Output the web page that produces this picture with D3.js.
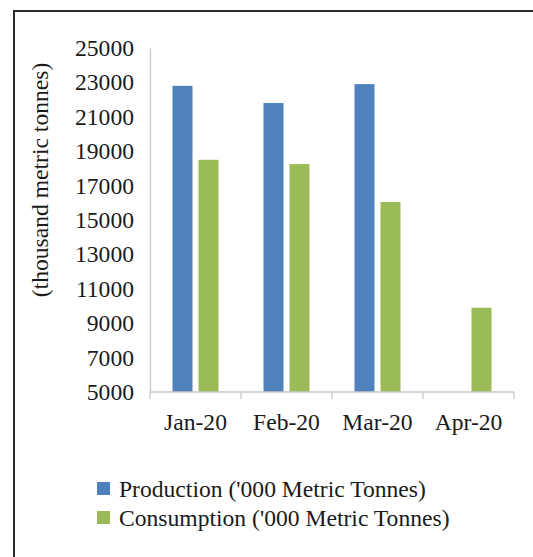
<!DOCTYPE html>
<html>
<head>
<meta charset="utf-8">
<script src="https://cdn.jsdelivr.net/npm/d3@7/dist/d3.min.js"></script>
<style>
  html, body { margin: 0; padding: 0; background: #fff; }
  svg { display: block; }
  text { font-family: "Liberation Serif", "Times New Roman", serif; fill: #1a1a1a; }
</style>
</head>
<body>
<svg id="chart" width="533" height="557"></svg>
<script>
const categories = ["Jan-20", "Feb-20", "Mar-20", "Apr-20"];
const seriesNames = ["Production ('000 Metric Tonnes)", "Consumption ('000 Metric Tonnes)"];
const production = [22800, 21800, 22900, null];
const consumption = [18500, 18250, 16050, 9900];
const yTicks = [5000, 7000, 9000, 11000, 13000, 15000, 17000, 19000, 21000, 23000, 25000];
const yTitle = "(thousand metric tonnes)";
const colors = ["#4f81bd", "#9bbb59"];

const svg = d3.select("#chart");
const W = 533, H = 557;
const m = { left: 150, right: 514, top: 48, bottom: 392 };
const fs = 23.6;

// outer border
svg.append("rect")
  .attr("x", 14).attr("y", 11)
  .attr("width", W + 20).attr("height", H + 20)
  .attr("fill", "none").attr("stroke", "#2a2a2a").attr("stroke-width", 2);

const x0 = d3.scaleBand().domain(categories).range([m.left, m.right]).padding(0);
const x1 = d3.scaleBand().domain([0, 1]).range([0, x0.bandwidth()])
  .paddingInner(0.231).paddingOuter(0.865);
const y = d3.scaleLinear().domain([5000, 25000]).range([m.bottom, m.top]);

// y axis
const yAxis = d3.axisLeft(y).tickValues(yTicks).tickSize(0).tickPadding(16).tickFormat(d3.format("d"));
const gy = svg.append("g").attr("transform", `translate(${m.left},0)`).call(yAxis);
gy.select(".domain").attr("stroke", "#c8c8c8").attr("stroke-width", 1.3);
gy.selectAll("text").attr("font-size", fs).style("font-family", "'Liberation Serif', serif").attr("fill", "#1a1a1a");

// bars
const series = [production, consumption];
series.forEach((vals, si) => {
  svg.append("g").selectAll("rect")
    .data(categories.map((c, i) => ({ c, v: vals[i] })).filter(d => d.v != null))
    .join("rect")
    .attr("x", d => x0(d.c) + x1(si))
    .attr("width", x1.bandwidth())
    .attr("y", d => y(d.v))
    .attr("height", d => y(5000) - y(d.v))
    .attr("fill", colors[si]);
});

// x axis
const gx = svg.append("g").attr("transform", `translate(0,${m.bottom})`);
gx.append("line").attr("x1", m.left).attr("x2", m.right).attr("y1", 0).attr("y2", 0)
  .attr("stroke", "#c8c8c8").attr("stroke-width", 1.3);
const bounds = categories.map(c => x0(c)).concat([x0(categories[categories.length - 1]) + x0.bandwidth()]);
gx.selectAll("line.tk").data(bounds).join("line").attr("class", "tk")
  .attr("x1", d => d).attr("x2", d => d).attr("y1", 0).attr("y2", 7)
  .attr("stroke", "#c8c8c8").attr("stroke-width", 1.3);
gx.selectAll("text").data(categories).join("text")
  .attr("x", d => x0(d) + x0.bandwidth() / 2)
  .attr("y", 38)
  .attr("text-anchor", "middle")
  .attr("font-size", fs)
  .text(d => d);

// y title
svg.append("text")
  .attr("transform", `translate(48,180) rotate(-90)`)
  .attr("text-anchor", "middle")
  .attr("font-size", fs)
  .text(yTitle);

// legend
const lg = svg.append("g");
seriesNames.forEach((name, i) => {
  const yy = 497 + i * 29;
  lg.append("rect").attr("x", 97).attr("y", yy - 15).attr("width", 13).attr("height", 13).attr("fill", colors[i]);
  lg.append("text").attr("x", 119).attr("y", yy).attr("font-size", fs).text(name);
});
</script>
</body>
</html>
